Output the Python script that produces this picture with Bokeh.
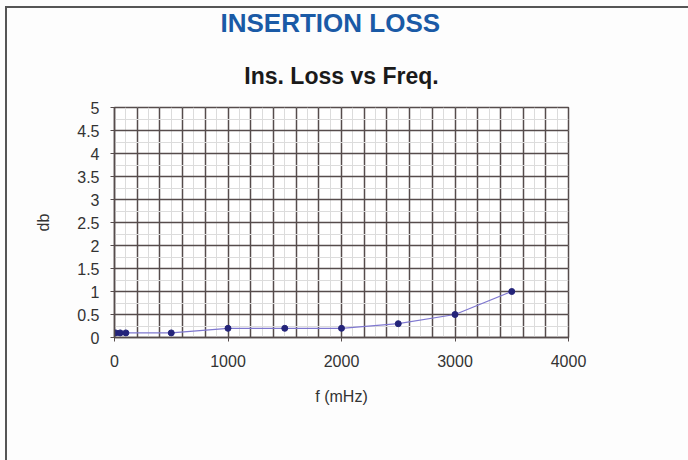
from bokeh.plotting import figure
from bokeh.models import Title, SingleIntervalTicker, NumeralTickFormatter, Range1d
from bokeh.embed import file_html
from bokeh.resources import INLINE

# Data
freq_mhz = [10, 50, 100, 500, 1000, 1500, 2000, 2500, 3000, 3500]
loss_db = [0.1, 0.1, 0.1, 0.1, 0.2, 0.2, 0.2, 0.3, 0.5, 1.0]
x_label_interval = 1000
y_label_interval = 0.5
page_title = "INSERTION LOSS"
chart_title = "Ins. Loss vs Freq."

FONT = "Liberation Sans"
GRID_DARK = "#564c4c"

page_bg = ("linear-gradient(#555,#555) 5px 6px / 2px 100% no-repeat, "
           "linear-gradient(#555,#555) 5px 6px / 100% 2px no-repeat, #fdfdfd")

p = figure(width=688, height=460, output_backend="svg", toolbar_location=None,
           x_range=Range1d(0, 4000), y_range=Range1d(0, 5),
           min_border_left=114, min_border_right=120,
           min_border_top=107, min_border_bottom=123,
           background_fill_color="white", border_fill_alpha=0,
           styles={"background": page_bg})

p.add_layout(Title(text=chart_title, text_font=FONT, text_font_size="23px",
                   text_font_style="bold", text_color="#1a1a1a", align="center",
                   standoff=38), "above")
p.add_layout(Title(text=page_title, text_font=FONT, text_font_size="26px",
                   text_font_style="bold", text_color="#1a5aa6", align="left",
                   offset=106, standoff=8), "above")

p.outline_line_color = GRID_DARK
p.outline_line_width = 1.5

# grid
p.xgrid.ticker = SingleIntervalTicker(interval=200, num_minor_ticks=2)
p.ygrid.ticker = SingleIntervalTicker(interval=0.5, num_minor_ticks=2)
for g in (p.xgrid, p.ygrid):
    g.grid_line_color = GRID_DARK
    g.grid_line_width = 1.5
    g.grid_line_alpha = 1.0
    g.minor_grid_line_color = "#dcdcdc"
    g.minor_grid_line_width = 1

# axes
p.xaxis.ticker = SingleIntervalTicker(interval=x_label_interval)
p.yaxis.ticker = SingleIntervalTicker(interval=y_label_interval)
p.yaxis.formatter = NumeralTickFormatter(format="0.[0]")
p.xaxis.formatter.use_scientific = False
p.xaxis.axis_label = "f (mHz)"
p.yaxis.axis_label = "db"
for ax in (p.xaxis, p.yaxis):
    ax.axis_line_color = GRID_DARK
    ax.axis_line_width = 1.5
    ax.major_tick_line_color = GRID_DARK
    ax.major_tick_out = 4
    ax.major_tick_in = 0
    ax.minor_tick_line_color = None
    ax.major_label_text_font = FONT
    ax.major_label_text_font_size = "16px"
    ax.major_label_text_color = "#333333"
    ax.axis_label_text_font = FONT
    ax.axis_label_text_font_size = "16px"
    ax.axis_label_text_font_style = "normal"
    ax.axis_label_text_color = "#333333"
p.xaxis.major_label_standoff = 13
p.yaxis.major_label_standoff = 11
p.xaxis.axis_label_standoff = 18
p.yaxis.axis_label_standoff = 22

p.line(freq_mhz, loss_db, line_color="#7f78d0", line_width=1.2)
p.scatter(freq_mhz, loss_db, size=6, fill_color="#24247a", line_color="#24247a")

open("out.html", "w").write(file_html(p, INLINE))
